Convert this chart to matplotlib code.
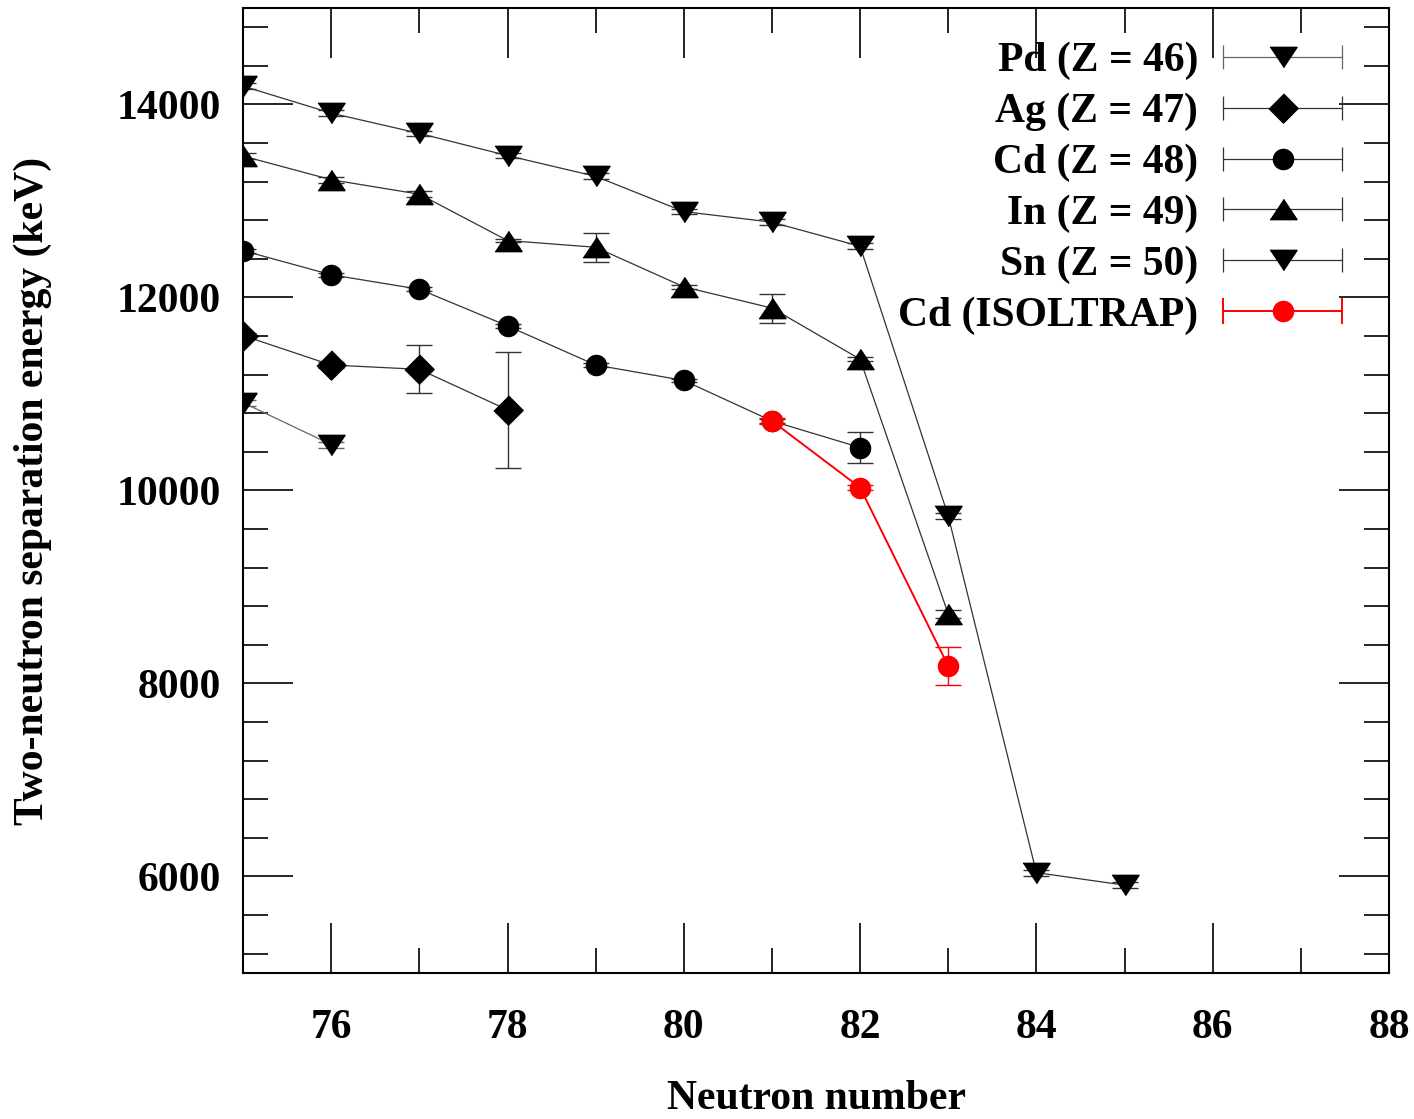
import matplotlib
matplotlib.use("Agg")
import matplotlib.pyplot as plt
from matplotlib.lines import Line2D
from matplotlib.legend_handler import HandlerBase
from matplotlib.ticker import MultipleLocator
import numpy as np

plt.rcParams['font.family'] = ['Liberation Serif', 'DejaVu Serif']
plt.rcParams['font.weight'] = 'bold'
plt.rcParams['font.size'] = 30

# two-neutron separation energies (keV) vs neutron number
pd_n = [75, 76]
pd_s2n = [10910, 10475]
pd_err = [30, 30]

ag_n = [75, 76, 77, 78]
ag_s2n = [11605, 11300, 11255, 10835]
ag_err = [30, 30, 250, 600]

cd_n = [75, 76, 77, 78, 79, 80, 81, 82]
cd_s2n = [12485, 12235, 12085, 11705, 11300, 11140, 10720, 10445]
cd_err = [20, 20, 20, 20, 20, 20, 20, 160]

in_n = [75, 76, 77, 78, 79, 80, 81, 82, 83]
in_s2n = [13465, 13220, 13070, 12590, 12520, 12110, 11890, 11360, 8720]
in_err = [30, 30, 30, 20, 150, 20, 150, 20, 40]

sn_n = [75, 76, 77, 78, 79, 80, 81, 82, 83, 84, 85]
sn_s2n = [14190, 13910, 13700, 13470, 13255, 12890, 12780, 12530, 9735, 6040, 5910]
sn_err = [30, 30, 30, 30, 30, 30, 30, 30, 30, 30, 30]

iso_n = [81, 82, 83]
iso_s2n = [10720, 10030, 8180]
iso_err = [30, 30, 200]

tri_down = [(-1, 0.75), (1, 0.75), (0, -0.75)]
tri_up = [(-1, -0.75), (1, -0.75), (0, 0.75)]
diamond = [(0, 1), (1, 0), (0, -1), (-1, 0)]

series = [
    ("Pd (Z = 46)", pd_n, pd_s2n, pd_err, tri_down, 19.5, "black", "#666666"),
    ("Ag (Z = 47)", ag_n, ag_s2n, ag_err, diamond, 21, "black", "#333333"),
    ("Cd (Z = 48)", cd_n, cd_s2n, cd_err, "o", 14.5, "black", "#333333"),
    ("In (Z = 49)", in_n, in_s2n, in_err, tri_up, 19.5, "black", "#333333"),
    ("Sn (Z = 50)", sn_n, sn_s2n, sn_err, tri_down, 19.5, "black", "#333333"),
    ("Cd (ISOLTRAP)", iso_n, iso_s2n, iso_err, "o", 14.5, "red", "red"),
]


class CapLineHandler(HandlerBase):
    # horizontal sample line with end caps and the marker in the middle
    def create_artists(self, legend, orig, xdescent, ydescent, width, height,
                       fontsize, trans):
        y = height / 2 - ydescent
        x0, x1 = -xdescent, width - xdescent
        lc = orig.get_gid()
        mc = orig.get_markerfacecolor()
        lw = 1.4 if mc == "red" else 0.9
        line = Line2D([x0, x1], [y, y], color=lc, lw=lw)
        caps = Line2D([x0, x1], [y, y], ls="none", marker="|",
                      ms=19 if mc == "red" else 17, mew=lw, color=lc)
        mark = Line2D([(x0 + x1) / 2], [y], ls="none",
                      marker=orig.get_marker(), ms=orig.get_markersize(),
                      color=mc)
        for a in (line, caps, mark):
            a.set_transform(trans)
        return [line, caps, mark]


fig = plt.figure(figsize=(14.14, 11.19), dpi=100)
ax = fig.add_axes([0.1719, 0.1305, 0.8104, 0.8624])

handles = []
for label, n, s2n, err, mk, ms, col, lcol in series:
    red = col == "red"
    eb = ax.errorbar(n, s2n, yerr=err, fmt="-", marker=mk, ms=ms, color=col,
                     mfc=col, mec=col, lw=1.4 if red else 0.9,
                     ecolor=lcol, elinewidth=1.0, capsize=9.5, capthick=1.0,
                     zorder=5 if red else 3, label=label)
    eb[0].set_color(col if red else lcol)
    eb[0].set_markerfacecolor(col)
    eb[0].set_markeredgecolor(col)
    eb[0].set_gid(lcol)
    handles.append(eb[0])

ax.set_xlim(75, 88)
ax.set_ylim(5000, 15000)
ax.xaxis.set_major_locator(MultipleLocator(2))
ax.xaxis.set_minor_locator(MultipleLocator(1))
ax.yaxis.set_major_locator(MultipleLocator(2000))
ax.yaxis.set_minor_locator(MultipleLocator(400))
ax.set_yticks([6000, 8000, 10000, 12000, 14000])

ax.tick_params(which="both", direction="in", top=True, right=True,
               width=1.2, colors="black")
ax.tick_params(which="major", length=36)
ax.tick_params(which="minor", length=18)
ax.tick_params(axis="x", which="major", pad=26)
ax.tick_params(axis="y", which="major", pad=16)
for sp in ax.spines.values():
    sp.set_linewidth(1.5)

ax.set_xlabel("Neutron number", fontweight="bold")
ax.set_ylabel("Two-neutron separation energy (keV)", fontweight="bold")
ax.xaxis.set_label_coords(0.5, -0.111)
ax.yaxis.set_label_coords(-0.167, 0.5)

ax.legend(handles=handles, labels=[s[0] for s in series],
          handler_map={Line2D: CapLineHandler()},
          loc="upper right", bbox_to_anchor=(0.959, 0.965),
          frameon=False, markerfirst=False, borderpad=0, borderaxespad=0,
          handlelength=2.85, handletextpad=0.6, labelspacing=0.3)

fig.savefig("out.png", dpi=100)
